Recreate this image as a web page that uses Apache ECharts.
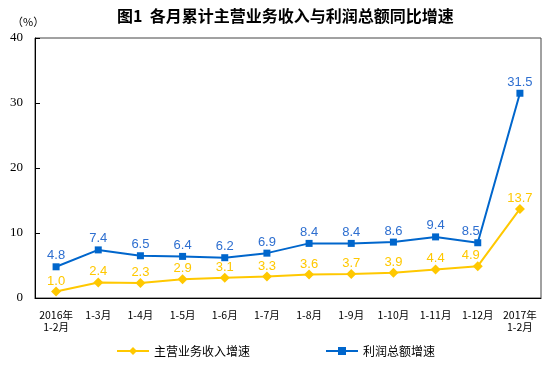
<!DOCTYPE html>
<html>
<head>
<meta charset="utf-8">
<script src="https://cdn.jsdelivr.net/npm/echarts@6/dist/echarts.min.js"></script>
<style>
  html, body { margin: 0; padding: 0; background: #fff; }
  #chart { width: 551px; height: 367px; }
</style>
</head>
<body>
<div id="chart"></div>
<script>
// ===== Data =====
const categories = ['2016年\n1-2月', '1-3月', '1-4月', '1-5月', '1-6月', '1-7月',
  '1-8月', '1-9月', '1-10月', '1-11月', '1-12月', '2017年\n1-2月'];
const revenueGrowth = [1.0, 2.4, 2.3, 2.9, 3.1, 3.3, 3.6, 3.7, 3.9, 4.4, 4.9, 13.7];
const profitGrowth = [4.8, 7.4, 6.5, 6.4, 6.2, 6.9, 8.4, 8.4, 8.6, 9.4, 8.5, 31.5];
const yTicks = [0, 10, 20, 30, 40];

const YELLOW = '#FFC800';
const BLUE = '#0066CC';
const cjk = '"Noto Sans CJK SC", sans-serif';
const latin = '"Liberation Sans", Arial, sans-serif';

// plot box (matches grid below)
const G = { left: 35, right: 10, top: 38, bottom: 69 };

// the 1-12月 labels sit a little left of their points, away from the steep last segment
const nudge = (vals) => vals.map((v, i) => i === 10 ? { value: v, label: { offset: [-7, 0] } } : v);

// ===== Chart =====
const chart = echarts.init(document.getElementById('chart'));
chart.setOption({
  animation: false,
  title: {
    text: '图1  各月累计主营业务收入与利润总额同比增速',
    left: 112, top: 3,
    textStyle: { fontSize: 16, fontWeight: 'bold', color: '#000', fontFamily: cjk }
  },
  graphic: [{
    type: 'text', left: 12, top: 16,
    style: { text: '（%）', fontSize: 11, fill: '#000', fontFamily: cjk }
  }, {
    type: 'rect', silent: true, z: -1,
    shape: { x: G.left, y: G.top, width: 551 - G.left - G.right, height: 367 - G.top - G.bottom },
    style: { fill: 'none', stroke: '#444', lineWidth: 1 }
  }],
  legend: {
    bottom: 5, left: 'center', itemGap: 75,
    itemWidth: 32, itemHeight: 10,
    textStyle: { fontSize: 12, color: '#000', fontFamily: cjk },
    data: ['主营业务收入增速', '利润总额增速']
  },
  grid: G,
  xAxis: {
    type: 'category',
    data: categories,
    boundaryGap: true,
    axisLine: { lineStyle: { color: '#000' } },
    axisTick: { inside: true, length: 5, lineStyle: { color: '#000' } },
    axisLabel: { color: '#000', fontSize: 10.5, fontFamily: cjk, margin: 11, interval: 0, lineHeight: 12 }
  },
  yAxis: {
    type: 'value', min: yTicks[0], max: yTicks[yTicks.length - 1], interval: 10,
    axisLine: { show: true, lineStyle: { color: '#000' } },
    axisTick: { show: true, inside: true, length: 5, lineStyle: { color: '#000' } },
    splitLine: { show: false },
    axisLabel: { color: '#000', fontSize: 13, fontFamily: '"Liberation Serif", serif', margin: 12 }
  },
  series: [{
    name: '主营业务收入增速',
    type: 'line',
    data: nudge(revenueGrowth),
    symbol: 'diamond', symbolSize: 10,
    itemStyle: { color: YELLOW },
    lineStyle: { color: YELLOW, width: 2 },
    label: { show: true, position: 'top', distance: -1, color: YELLOW, fontSize: 13,
      fontFamily: latin, formatter: p => p.value.toFixed(1) }
  }, {
    name: '利润总额增速',
    type: 'line',
    data: nudge(profitGrowth),
    symbol: 'rect', symbolSize: 7,
    itemStyle: { color: BLUE },
    lineStyle: { color: BLUE, width: 2 },
    label: { show: true, position: 'top', distance: 1, color: '#2E6FD0', fontSize: 13,
      fontFamily: latin, formatter: p => p.value.toFixed(1) }
  }]
});
</script>
</body>
</html>
